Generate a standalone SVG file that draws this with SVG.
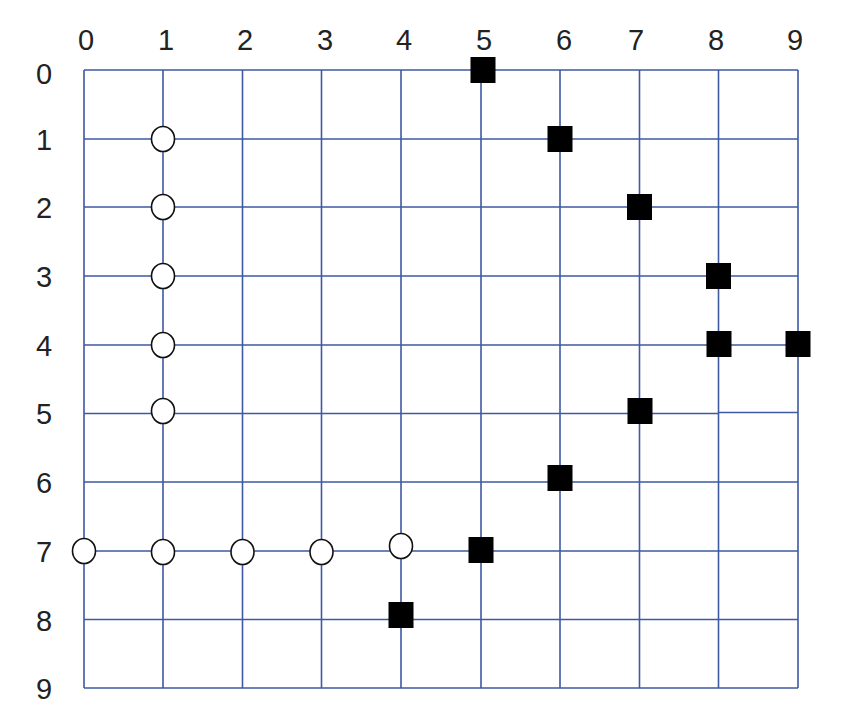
<svg xmlns="http://www.w3.org/2000/svg" width="849" height="722" viewBox="0 0 849 722">
<style>
.g{stroke:#3d5aa3;stroke-width:1.6;fill:none}
.l{font-family:"Liberation Sans",Arial,sans-serif;font-size:29px;fill:#222;text-anchor:middle}
.c{fill:#fff;stroke:#111;stroke-width:1.6}
.s{fill:#000}
</style>
<rect width="849" height="722" fill="#fff"/>
<g id="labels">
<text class="l" x="86" y="50">0</text>
<text class="l" x="166" y="50">1</text>
<text class="l" x="245" y="50">2</text>
<text class="l" x="325" y="50">3</text>
<text class="l" x="404" y="50">4</text>
<text class="l" x="484" y="50">5</text>
<text class="l" x="564" y="50">6</text>
<text class="l" x="636" y="50">7</text>
<text class="l" x="716" y="50">8</text>
<text class="l" x="795" y="50">9</text>
<text class="l" x="44" y="84">0</text>
<text class="l" x="44" y="150">1</text>
<text class="l" x="44" y="218">2</text>
<text class="l" x="44" y="287">3</text>
<text class="l" x="44" y="356">4</text>
<text class="l" x="44" y="424">5</text>
<text class="l" x="44" y="493">6</text>
<text class="l" x="44" y="562">7</text>
<text class="l" x="44" y="631">8</text>
<text class="l" x="44" y="699">9</text>
</g>
<g id="grid" class="g">
<path d="M84 70V688M163 70V688M242.5 70V688M321.5 70V688M401 70V688M481 70V688M560 70V688M639.5 70V688M718.5 70V688M798 70V688"/>
<path d="M84 70H798M84 139H798M84 207H798M84 276H798M84 345H798M84 413.5H718.5M718.5 412.5H798M84 482H798M84 551H798M84 619.5H798M84 688H798"/>
</g>
<g id="circles">
<ellipse class="c" cx="163" cy="139" rx="11.5" ry="12.5"/>
<ellipse class="c" cx="163" cy="207" rx="11.5" ry="12.5"/>
<ellipse class="c" cx="163" cy="276" rx="11.5" ry="12.5"/>
<ellipse class="c" cx="163" cy="345" rx="11.5" ry="12.5"/>
<ellipse class="c" cx="163" cy="411" rx="11.5" ry="12.5"/>
<ellipse class="c" cx="84" cy="551" rx="11.5" ry="12.5"/>
<ellipse class="c" cx="163" cy="552" rx="11.5" ry="12.5"/>
<ellipse class="c" cx="242.5" cy="552" rx="11.5" ry="12.5"/>
<ellipse class="c" cx="321.5" cy="552" rx="11.5" ry="12.5"/>
<ellipse class="c" cx="401" cy="546" rx="11.5" ry="12.5"/>
</g>
<g id="squares">
<rect class="s" x="470.5" y="57" width="25" height="26"/>
<rect class="s" x="547.5" y="126" width="25" height="26"/>
<rect class="s" x="627" y="194" width="25" height="26"/>
<rect class="s" x="706" y="263" width="25" height="26"/>
<rect class="s" x="706.5" y="331" width="25" height="26"/>
<rect class="s" x="785.5" y="331" width="25" height="26"/>
<rect class="s" x="627.5" y="398" width="25" height="26"/>
<rect class="s" x="547.5" y="465" width="25" height="26"/>
<rect class="s" x="468.5" y="537" width="25" height="26"/>
<rect class="s" x="388.5" y="602" width="25" height="26"/>
</g>
</svg>
